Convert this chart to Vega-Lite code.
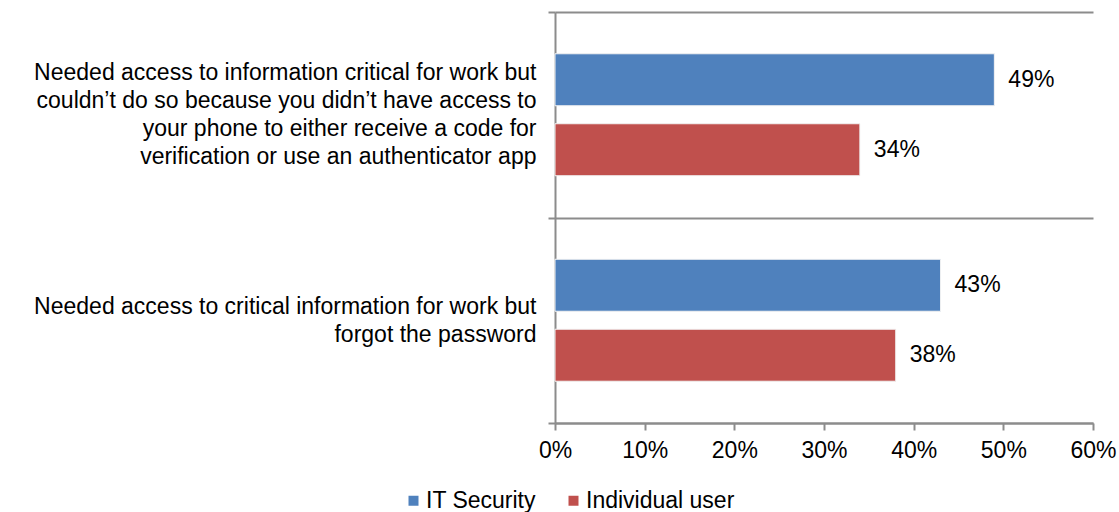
{
  "$schema": "https://vega.github.io/schema/vega-lite/v6.json",
  "autosize": {"type": "none"},
  "padding": {"left": 555, "top": 12, "right": 26, "bottom": 89},
  "width": 538,
  "height": 411,
  "background": "white",
  "config": {
    "font": "Liberation Sans",
    "view": {"stroke": null}
  },
  "data": {
    "values": [
      {"question": "Needed access to information critical for work but|couldn’t do so because you didn’t have access to|your phone to either receive a code for|verification or use an authenticator app", "group": "IT Security", "value": 0.49},
      {"question": "Needed access to information critical for work but|couldn’t do so because you didn’t have access to|your phone to either receive a code for|verification or use an authenticator app", "group": "Individual user", "value": 0.34},
      {"question": "Needed access to critical information for work but|forgot the password", "group": "IT Security", "value": 0.43},
      {"question": "Needed access to critical information for work but|forgot the password", "group": "Individual user", "value": 0.38}
    ]
  },
  "encoding": {
    "y": {
      "field": "question",
      "type": "nominal",
      "sort": null,
      "scale": {"paddingInner": 0, "paddingOuter": 0},
      "axis": {
        "title": null,
        "labelExpr": "length(split(datum.label, '|')) == 2 ? ['', split(datum.label, '|')[0], split(datum.label, '|')[1], ''] : split(datum.label, '|')",
        "labelFont": "Liberation Sans",
        "labelFontSize": 23,
        "labelLineHeight": 28,
        "labelColor": "#000000",
        "labelPadding": 12,
        "labelLimit": 0,
        "labelOffset": -42,
        "tickBand": "extent",
        "tickSize": 7,
        "tickColor": "#8c8c8c",
        "tickWidth": 2,
        "domainColor": "#8c8c8c",
        "domainWidth": 2,
        "grid": true,
        "gridColor": "#8c8c8c",
        "gridWidth": 2
      }
    },
    "yOffset": {
      "field": "group",
      "type": "nominal",
      "sort": ["IT Security", "Individual user"],
      "scale": {"paddingInner": 0.257, "paddingOuter": 0.597}
    },
    "x": {
      "field": "value",
      "type": "quantitative",
      "scale": {"domain": [0, 0.6], "nice": false},
      "axis": {
        "title": null,
        "format": ".0%",
        "values": [0, 0.1, 0.2, 0.3, 0.4, 0.5, 0.6],
        "grid": false,
        "labelFlush": false,
        "labelOverlap": false,
        "labelFont": "Liberation Sans",
        "labelFontSize": 23,
        "labelColor": "#000000",
        "labelPadding": 9,
        "tickSize": 7,
        "tickColor": "#8c8c8c",
        "tickWidth": 2,
        "domainColor": "#8c8c8c",
        "domainWidth": 2
      }
    }
  },
  "layer": [
    {
      "mark": {"type": "bar", "color": "#a0a0a0", "opacity": 0.45, "yOffset": 4},
      "encoding": {}
    },
    {
      "mark": {"type": "bar", "stroke": "#f4f4f4", "strokeWidth": 1},
      "encoding": {
        "color": {
          "field": "group",
          "type": "nominal",
          "scale": {"domain": ["IT Security", "Individual user"], "range": ["#4F81BD", "#C0504D"]},
          "legend": {
            "title": null,
            "orient": "none",
            "direction": "horizontal",
            "legendX": -153,
            "legendY": 477,
            "symbolType": "square",
            "symbolSize": 100,
            "symbolStrokeWidth": 0,
            "labelFont": "Liberation Sans",
            "labelFontSize": 23,
            "labelColor": "#000000",
            "labelOffset": 1,
            "columnPadding": 26
          }
        }
      }
    },
    {
      "mark": {"type": "text", "align": "left", "baseline": "middle", "dx": 14, "fontSize": 23, "font": "Liberation Sans", "color": "#000000"},
      "encoding": {
        "text": {"field": "value", "type": "quantitative", "format": ".0%"}
      }
    }
  ]
}
